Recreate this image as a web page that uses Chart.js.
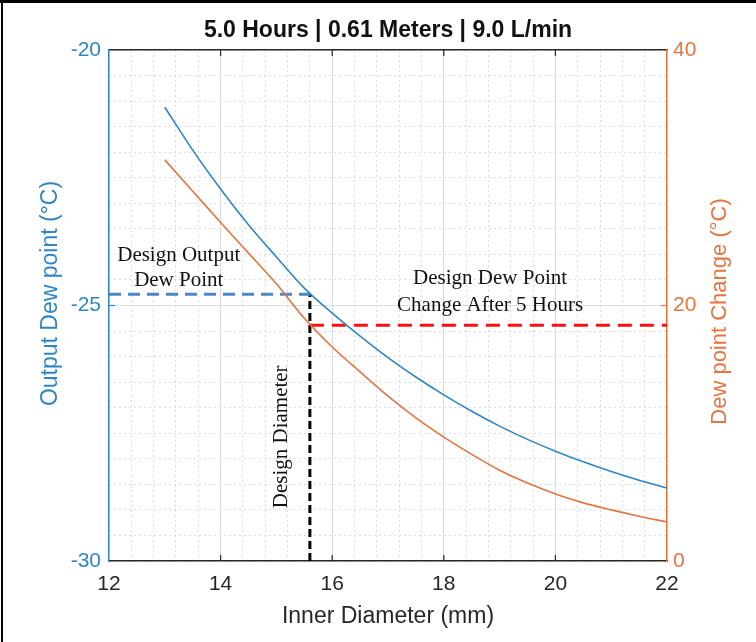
<!DOCTYPE html>
<html>
<head>
<meta charset="utf-8">
<title>Dew point vs inner diameter</title>
<script src="https://cdn.jsdelivr.net/npm/chart.js@4.4.1/dist/chart.umd.min.js"></script>
<style>
  html, body { margin: 0; padding: 0; background: #fff; }
  #wrap { width: 756px; height: 642px; position: relative; }
</style>
</head>
<body>
<div id="wrap"><canvas id="chart"></canvas></div>
<script>
// Inner diameter (mm) where the curves were read
const diameters = [13, 13.5, 14, 14.5, 15, 15.5, 16, 16.5, 17, 17.5, 18, 18.5, 19, 19.5, 20, 20.5, 21, 21.5, 22];
// Output dew point (°C), left axis
const outputDewPoint = [-21.12, -21.96, -22.72, -23.42, -24.05, -24.66, -25.15, -25.60, -26.02, -26.40, -26.75, -27.07, -27.36, -27.62, -27.85, -28.06, -28.25, -28.42, -28.57];
// Dew point change (°C), right axis
const dewPointChange = [31.4, 28.95, 26.5, 24.1, 21.7, 19.0, 16.75, 14.8, 12.9, 11.2, 9.7, 8.35, 7.1, 6.1, 5.25, 4.55, 4.0, 3.5, 3.05];

// Design point
const designDiameter = 15.6;
const designDewPoint = -24.78;
const designChange = 18.45;

// Axis ticks
const xTicks = [12, 14, 16, 18, 20, 22];
const leftTicks = [-30, -25, -20];
const rightTicks = [0, 20, 40];

const SANS = '"Liberation Sans", Arial, Helvetica, sans-serif';
const SERIF = '"Liberation Serif", "Times New Roman", serif';
const BLUE = '#2f86c6';
const ORANGE = '#e5743f';

const toPoints = (xs, ys) => xs.map((x, i) => ({ x: x, y: ys[i] }));

// Frame, inward ticks, y axis titles and the text notes
const extras = {
  id: 'extras',
  afterDatasetsDraw(chart) {
    const { ctx, scales } = chart;
    const x = scales.x, y = scales.y, y2 = scales.y2;
    const area = chart.chartArea;
    const midY = (area.top + area.bottom) / 2;
    ctx.save();
    // inward tick marks
    ctx.lineWidth = 1.2;
    ctx.strokeStyle = '#262626';
    xTicks.slice(1, -1).forEach(v => {
      const px = x.getPixelForValue(v);
      ctx.beginPath();
      ctx.moveTo(px, area.bottom); ctx.lineTo(px, area.bottom - 6);
      ctx.moveTo(px, area.top); ctx.lineTo(px, area.top + 6);
      ctx.stroke();
    });
    ctx.strokeStyle = BLUE;
    ctx.beginPath();
    ctx.moveTo(area.left, y.getPixelForValue(-25)); ctx.lineTo(area.left + 6, y.getPixelForValue(-25));
    ctx.stroke();
    ctx.strokeStyle = ORANGE;
    ctx.beginPath();
    ctx.moveTo(area.right, y2.getPixelForValue(20)); ctx.lineTo(area.right - 6, y2.getPixelForValue(20));
    ctx.stroke();

    // y axis titles, both read bottom to top
    ctx.textAlign = 'center';
    ctx.textBaseline = 'middle';
    ctx.font = '23px ' + SANS;
    ctx.save();
    ctx.fillStyle = BLUE;
    ctx.translate(y.left + 47, midY - 12);
    ctx.rotate(-Math.PI / 2);
    ctx.fillText('Output Dew point (°C)', 0, 0);
    ctx.restore();
    ctx.save();
    ctx.font = '22px ' + SANS;
    ctx.fillStyle = ORANGE;
    ctx.translate(area.right + 53, midY + 6);
    ctx.rotate(-Math.PI / 2);
    ctx.fillText('Dew point Change (°C)', 0, 0);
    ctx.restore();

    // notes
    ctx.fillStyle = '#111';
    ctx.font = '21px ' + SERIF;
    ctx.fillText('Design Output', x.getPixelForValue(13.25), y.getPixelForValue(-24.03));
    ctx.fillText('Dew Point', x.getPixelForValue(13.25), y.getPixelForValue(-24.52));
    ctx.fillText('Design Dew Point', x.getPixelForValue(18.83), y.getPixelForValue(-24.48));
    ctx.fillText('Change After 5 Hours', x.getPixelForValue(18.83), y.getPixelForValue(-24.99));
    ctx.translate(x.getPixelForValue(15.1), y.getPixelForValue(-27.57));
    ctx.rotate(-Math.PI / 2);
    ctx.fillText('Design Diameter', 0, 0);
    ctx.restore();

    // outer frame
    ctx.save();
    ctx.fillStyle = '#000';
    ctx.fillRect(0, 0, chart.width, 3);
    ctx.fillRect(1, 0, 2, chart.height);
    ctx.restore();
  }
};

new Chart(document.getElementById('chart'), {
  type: 'line',
  data: {
    datasets: [
      {
        label: 'Output Dew point',
        data: toPoints(diameters, outputDewPoint),
        yAxisID: 'y',
        borderColor: BLUE,
        borderWidth: 1.6,
        pointRadius: 0,
        cubicInterpolationMode: 'monotone'
      },
      {
        label: 'Dew point Change',
        data: toPoints(diameters, dewPointChange),
        yAxisID: 'y2',
        borderColor: ORANGE,
        borderWidth: 1.6,
        pointRadius: 0,
        cubicInterpolationMode: 'monotone'
      },
      {
        label: 'Design Output Dew Point',
        data: [{ x: 12, y: designDewPoint }, { x: designDiameter, y: designDewPoint }],
        yAxisID: 'y',
        borderColor: '#4a86c8',
        borderWidth: 3,
        borderDash: [12, 7],
        pointRadius: 0
      },
      {
        label: 'Design Dew Point Change',
        data: [{ x: designDiameter, y: designChange }, { x: 22, y: designChange }],
        yAxisID: 'y2',
        borderColor: '#ff1010',
        borderWidth: 3,
        borderDash: [14, 8],
        pointRadius: 0
      },
      {
        label: 'Design Diameter',
        data: [{ x: designDiameter, y: -30 }, { x: designDiameter, y: designDewPoint }],
        yAxisID: 'y',
        borderColor: '#000',
        borderWidth: 3,
        borderDash: [8, 4],
        pointRadius: 0
      }
    ]
  },
  options: {
    responsive: true,
    maintainAspectRatio: false,
    animation: false,
    layout: { padding: { left: 4, right: 0, top: 0, bottom: 0 } },
    plugins: {
      legend: { display: false },
      tooltip: { enabled: false },
      title: {
        display: true,
        fullSize: false,
        text: '5.0 Hours | 0.61 Meters | 9.0 L/min',
        color: '#111',
        font: { family: SANS, size: 23, weight: 'bold' },
        padding: { top: 17, bottom: 5.4 }
      }
    },
    scales: {
      x: {
        type: 'linear', position: 'bottom', min: 12, max: 22,
        afterBuildTicks: s => { s.ticks = xTicks.map(v => ({ value: v })); },
        afterFit: s => { s.height = 81; },
        ticks: { color: '#262626', font: { family: SANS, size: 21 }, padding: 11 },
        grid: {
          drawTicks: false,
          color: c => (c.tick && (c.tick.value === 12 || c.tick.value === 22)) ? 'transparent' : '#dadada'
        },
        border: { color: '#262626', width: 1.5 },
        title: { display: true, text: 'Inner Diameter (mm)', color: '#262626', font: { family: SANS, size: 23 }, padding: { top: 4, bottom: 12 } }
      },
      xMinor: {
        type: 'linear', position: 'bottom', min: 12, max: 22,
        ticks: { display: false, stepSize: 0.4 },
        afterFit: s => { s.height = 0; },
        grid: { drawTicks: false, color: '#dcdcdc', lineWidth: 1 },
        border: { display: false, dash: [2, 3] }
      },
      xTop: {
        type: 'linear', position: 'top', min: 12, max: 22,
        ticks: { display: false },
        afterFit: s => { s.height = 0; },
        grid: { display: false, drawTicks: false },
        border: { color: '#262626', width: 1.5 }
      },
      y: {
        type: 'linear', position: 'left', min: -30, max: -20,
        afterBuildTicks: s => { s.ticks = leftTicks.map(v => ({ value: v })); },
        afterFit: s => { s.width = 105; },
        ticks: { color: BLUE, font: { family: SANS, size: 21 }, padding: 8 },
        grid: {
          drawTicks: false,
          color: c => (c.tick && c.tick.value === -25) ? '#cfe2f3' : 'transparent'
        },
        border: { color: BLUE, width: 1.5 }
      },
      yMinor: {
        type: 'linear', position: 'left', min: -30, max: -20,
        ticks: { display: false, stepSize: 0.5 },
        afterFit: s => { s.width = 0; },
        grid: { drawTicks: false, color: '#dcdcdc', lineWidth: 1 },
        border: { display: false, dash: [2, 3] }
      },
      y2: {
        type: 'linear', position: 'right', min: 0, max: 40,
        afterBuildTicks: s => { s.ticks = rightTicks.map(v => ({ value: v })); },
        afterFit: s => { s.width = 89; },
        ticks: { color: ORANGE, font: { family: SANS, size: 21 }, padding: 6 },
        grid: { display: false, drawTicks: false },
        border: { color: ORANGE, width: 1.5 }
      }
    }
  },
  plugins: [extras]
});
</script>
</body>
</html>
